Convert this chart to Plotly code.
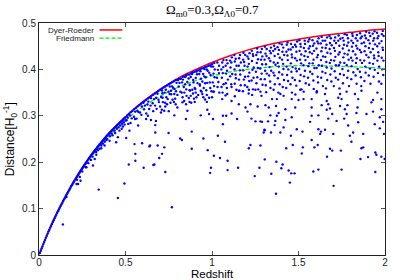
import plotly.graph_objects as go

# curves (redshift vs distance in units of c/H0)
z_curve = [0, 0.05, 0.1, 0.15, 0.2, 0.25, 0.3, 0.35, 0.4, 0.45, 0.5, 0.55, 0.6, 0.65, 0.7, 0.75,
           0.8, 0.85, 0.9, 0.95, 1.0, 1.1, 1.2, 1.3, 1.4, 1.5, 1.6, 1.7, 1.8, 1.9, 2.0]
dyer_roeder = [0, 0.047, 0.088, 0.1245, 0.158, 0.188, 0.215, 0.239, 0.261, 0.280, 0.298, 0.315, 0.330,
               0.344, 0.357, 0.369, 0.380, 0.390, 0.399, 0.407, 0.415, 0.429, 0.441, 0.451, 0.459,
               0.465, 0.471, 0.476, 0.480, 0.484, 0.487]
friedmann = [0, 0.0465, 0.0872, 0.1228, 0.1555, 0.1845, 0.2105, 0.2335, 0.2545, 0.273, 0.290, 0.306,
             0.319, 0.331, 0.342, 0.352, 0.3605, 0.368, 0.375, 0.381, 0.386, 0.394, 0.400, 0.404,
             0.407, 0.408, 0.408, 0.407, 0.406, 0.404, 0.402]

# simulated light-ray distances, (z, D) pairs
pts_low = [
    (0.005, .0045), (0.01, .009), (0.015, .014), (0.02, .0185), (0.025, .0235), (0.03, .028), (0.035, .0325),
    (0.04, .037), (0.045, .0415), (0.05, .046), (0.055, .0505), (0.06, .0545), (0.065, .059), (0.07, .063),
    (0.075, .067), (0.08, .071), (0.085, .075), (0.09, .079), (0.095, .083), (0.10, .087), (0.105, .091),
    (0.11, .0945), (0.115, .098), (0.12, .102), (0.125, .1055), (0.13, .109), (0.135, .1125), (0.14, .1165),
    (0.145, .120), (0.15, .1235), (0.155, .127), (0.16, .1305), (0.165, .1335), (0.17, .137), (0.175, .140),
    (0.18, .1435), (0.185, .1475), (0.19, .1505), (0.195, .1535), (0.20, .157),
    (0.205, .160), (0.21, .163), (0.215, .166), (0.22, .169), (0.225, .172), (0.23, .175), (0.235, .178),
    (0.24, .181), (0.245, .184), (0.25, .187), (0.255, .1895), (0.26, .1925), (0.265, .195), (0.27, .198),
    (0.275, .2005), (0.28, .2035), (0.285, .206), (0.29, .209), (0.295, .2115), (0.30, .214),
    (0.22, .162), (0.25, .180), (0.27, .189), (0.285, .198), (0.30, .205), (0.217, .153), (0.226, .153),
    (0.24, .160), (0.138, .066), (0.274, .189), (0.236, .168), (0.159, .125),
    (0.305, .2165), (0.31, .219), (0.315, .2215), (0.32, .224), (0.325, .2265), (0.33, .2285), (0.335, .231),
    (0.34, .2335), (0.345, .2355), (0.35, .238), (0.355, .240), (0.36, .2425), (0.365, .2445), (0.37, .247),
    (0.375, .249), (0.38, .2515), (0.385, .2535), (0.39, .256), (0.395, .258), (0.40, .260), (0.405, .262),
    (0.41, .264), (0.415, .266), (0.42, .268), (0.425, .2695), (0.43, .2715), (0.435, .2735), (0.44, .2755),
    (0.445, .277), (0.45, .279), (0.455, .281), (0.46, .2825), (0.465, .2845), (0.47, .286), (0.475, .288),
    (0.48, .2895), (0.485, .2915), (0.49, .2935), (0.495, .295), (0.50, .297),
    (0.31, .212), (0.322, .207), (0.312, .193), (0.331, .216), (0.34, .226), (0.35, .229), (0.36, .236),
    (0.37, .240), (0.379, .236), (0.38, .244), (0.39, .248), (0.395, .250), (0.408, .246), (0.41, .256),
    (0.42, .262), (0.425, .258), (0.437, .268), (0.44, .263), (0.446, .243), (0.45, .272), (0.456, .254),
    (0.46, .275), (0.465, .268), (0.47, .279), (0.478, .272), (0.48, .283), (0.485, .277), (0.49, .286),
    (0.494, .154), (0.495, .281), (0.50, .290), (0.345, .141), (0.456, .123), (0.33, .222), (0.36, .230),
]

pts_mid = [
    (0.51, .3005), (0.52, .304), (0.53, .3075), (0.54, .3105), (0.55, .314), (0.56, .317), (0.57, .320),
    (0.58, .323), (0.59, .326), (0.60, .329), (0.61, .332), (0.62, .3345), (0.63, .3375), (0.64, .340),
    (0.65, .343), (0.66, .3455), (0.67, .348), (0.68, .3505), (0.69, .3535), (0.70, .356), (0.71, .3585),
    (0.72, .361), (0.73, .363), (0.74, .3655), (0.75, .368), (0.76, .370), (0.77, .3725), (0.78, .3745),
    (0.79, .377), (0.80, .377), (0.81, .380), (0.82, .380), (0.83, .384), (0.84, .384), (0.85, .387),
    (0.86, .389), (0.87, .389), (0.88, .392), (0.89, .394), (0.90, .395), (0.91, .397), (0.92, .398),
    (0.93, .400), (0.94, .402), (0.95, .403), (0.96, .405), (0.97, .406), (0.98, .408), (0.99, .409),
    (1.00, .411),
    (0.513, .2965), (0.506, .2905), (0.516, .2825), (0.526, .3005), (0.536, .2945), (0.529, .2845),
    (0.556, .309), (0.549, .298), (0.555, .293), (0.569, .311), (0.575, .308), (0.564, .294),
    (0.595, .320), (0.584, .307), (0.592, .302), (0.604, .328), (0.612, .322), (0.607, .314),
    (0.632, .3305), (0.627, .3245), (0.637, .3145), (0.647, .338), (0.657, .327), (0.645, .322),
    (0.677, .339), (0.665, .336), (0.671, .322), (0.685, .3475), (0.691, .3345), (0.693, .3295),
    (0.711, .3545), (0.713, .3485), (0.706, .3405), (0.716, .3295),
    (0.733, .356), (0.726, .350), (0.736, .340), (0.729, .328),
    (0.756, .363), (0.749, .352), (0.755, .347), (0.744, .336),
    (0.769, .3635), (0.775, .3605), (0.764, .3465), (0.772, .3345),
    (0.795, .371), (0.784, .358), (0.792, .353), (0.787, .337),
    (0.804, .377), (0.812, .371), (0.807, .363), (0.817, .352),
    (0.832, .378), (0.827, .372), (0.837, .362), (0.825, .350),
    (0.847, .384), (0.857, .373), (0.845, .368), (0.851, .357), (0.853, .343),
    (0.877, .3835), (0.865, .3805), (0.871, .3665), (0.873, .3545), (0.866, .3385),
    (0.885, .390), (0.891, .377), (0.893, .372), (0.886, .356), (0.896, .337),
    (0.911, .3955), (0.913, .3895), (0.906, .3815), (0.916, .3705), (0.904, .3575),
    (0.933, .396), (0.926, .390), (0.936, .380), (0.929, .368), (0.935, .354),
    (0.956, .401), (0.949, .390), (0.955, .385), (0.944, .374), (0.952, .360),
    (0.969, .400), (0.975, .397), (0.964, .383), (0.972, .371), (0.967, .355),
    (0.995, .406), (0.984, .393), (0.992, .388), (0.987, .372), (0.997, .353),
    (0.519, .195), (0.523, .268), (0.504, .252), (0.552, .239), (0.557, .218), (0.557, .203), (0.573, .279),
    (0.596, .241), (0.605, .188), (0.619, .293), (0.638, .234), (0.642, .236), (0.647, .291), (0.661, .194),
    (0.667, .195), (0.672, .264), (0.672, .280), (0.676, .289), (0.686, .236), (0.695, .209), (0.705, .307),
    (0.711, .218), (0.714, .339), (0.724, .232), (0.724, .311), (0.730, .179), (0.749, .263), (0.763, .354),
    (0.768, .103), (0.782, .301), (0.782, .347), (0.816, .251), (0.826, .248), (0.829, .329), (0.839, .332),
    (0.849, .293), (0.858, .311), (0.877, .343), (0.883, .266), (0.883, .229), (0.906, .350), (0.935, .301),
    (0.944, .347), (0.950, .251), (0.973, .313), (0.975, .226), (0.983, .339), (0.983, .304), (0.989, .177),
    (0.994, .188),
    (0.62, .305), (0.66, .310), (0.70, .320), (0.74, .325), (0.78, .330), (0.80, .345), (0.84, .350),
    (0.87, .355), (0.90, .360), (0.93, .365), (0.96, .370), (0.99, .360), (0.75, .310), (0.80, .318),
    (0.85, .325), (0.90, .330), (0.95, .340), (0.97, .345), (0.92, .345), (0.88, .328), (0.83, .340),
    (0.79, .325), (0.73, .320), (0.63, .300), (0.68, .315), (0.71, .313), (0.76, .328),
    (0.94, .352), (0.96, .335), (0.89, .348), (0.91, .340), (0.97, .330), (1.00, .340), (0.87, .330),
]

pts_high1 = [
    (1.013, .414), (1.006, .406), (1.016, .400), (1.009, .391), (1.015, .383), (1.004, .372), (1.012, .364),
    (1.007, .352),
    (1.031, .415), (1.041, .408), (1.034, .399), (1.040, .392), (1.029, .382), (1.037, .373), (1.032, .362),
    (1.042, .350),
    (1.066, .420), (1.059, .415), (1.065, .405), (1.054, .400), (1.062, .392), (1.057, .382), (1.067, .368),
    (1.055, .362), (1.061, .350),
    (1.084, .420), (1.090, .413), (1.079, .408), (1.087, .397), (1.082, .391), (1.092, .378), (1.080, .370),
    (1.086, .360), (1.088, .347),
    (1.115, .426), (1.104, .419), (1.112, .415), (1.107, .404), (1.117, .390), (1.105, .385), (1.111, .368),
    (1.113, .362),
    (1.129, .431), (1.137, .423), (1.132, .417), (1.142, .408), (1.130, .400), (1.136, .389), (1.138, .381),
    (1.131, .369), (1.141, .356),
    (1.162, .431), (1.157, .424), (1.167, .415), (1.155, .408), (1.161, .398), (1.163, .389), (1.156, .378),
    (1.166, .366), (1.159, .354),
    (1.182, .436), (1.192, .431), (1.180, .421), (1.186, .416), (1.188, .408), (1.181, .398), (1.191, .384),
    (1.184, .378), (1.190, .366), (1.179, .353),
    (1.217, .435), (1.205, .428), (1.211, .423), (1.213, .412), (1.206, .406), (1.216, .393), (1.209, .385),
    (1.215, .375), (1.204, .362), (1.212, .348),
    (1.230, .440), (1.236, .433), (1.238, .429), (1.231, .418), (1.241, .404), (1.234, .399), (1.240, .382),
    (1.229, .376), (1.237, .357), (1.232, .345),
    (1.261, .445), (1.263, .437), (1.256, .431), (1.266, .422), (1.259, .414), (1.265, .403), (1.254, .395),
    (1.262, .383), (1.257, .370), (1.267, .357),
    (1.288, .444), (1.281, .437), (1.291, .428), (1.284, .421), (1.290, .411), (1.279, .402), (1.287, .391),
    (1.282, .379), (1.292, .367), (1.280, .352),
    (1.306, .449), (1.316, .444), (1.309, .434), (1.315, .429), (1.304, .421), (1.312, .411), (1.307, .397),
    (1.317, .391), (1.305, .379), (1.311, .366), (1.313, .351),
    (1.341, .447), (1.334, .440), (1.340, .435), (1.329, .424), (1.337, .418), (1.332, .405), (1.342, .397),
    (1.330, .387), (1.336, .374), (1.338, .360),
    (1.359, .451), (1.365, .444), (1.354, .440), (1.362, .429), (1.357, .415), (1.367, .410), (1.355, .393),
    (1.361, .387), (1.363, .368), (1.356, .356),
    (1.390, .456), (1.379, .448), (1.387, .442), (1.382, .433), (1.392, .425), (1.380, .414), (1.386, .406),
    (1.388, .394), (1.381, .381), (1.391, .368), (1.384, .350),
    (1.404, .454), (1.412, .447), (1.407, .438), (1.417, .431), (1.405, .421), (1.411, .412), (1.413, .401),
    (1.406, .389), (1.416, .377), (1.409, .362),
    (1.437, .458), (1.432, .453), (1.442, .443), (1.430, .438), (1.436, .430), (1.438, .420), (1.431, .406),
    (1.441, .400), (1.434, .388), (1.440, .375), (1.429, .360),
    (1.457, .455), (1.467, .448), (1.455, .443), (1.461, .432), (1.463, .426), (1.456, .413), (1.466, .405),
    (1.459, .395), (1.465, .382), (1.454, .368), (1.462, .350),
    (1.492, .460), (1.480, .453), (1.486, .449), (1.488, .438), (1.481, .424), (1.491, .419), (1.484, .402),
    (1.490, .396), (1.479, .377), (1.487, .365), (1.482, .346),
    (1.006, .293), (1.011, .352), (1.011, .214), (1.034, .257), (1.046, .209), (1.059, .336), (1.063, .300),
    (1.063, .282), (1.075, .244), (1.078, .344), (1.082, .300), (1.090, .203), (1.090, .183), (1.113, .332),
    (1.113, .305), (1.132, .342), (1.145, .293), (1.151, .188), (1.155, .325), (1.155, .354), (1.194, .318),
    (1.205, .309), (1.213, .230), (1.213, .356), (1.222, .237), (1.222, .325), (1.228, .294), (1.247, .170),
    (1.251, .288), (1.251, .356), (1.264, .320), (1.274, .188), (1.280, .236), (1.280, .288), (1.286, .343),
    (1.289, .287), (1.299, .264), (1.303, .270), (1.305, .206), (1.305, .269), (1.309, .323), (1.324, .288),
    (1.328, .318), (1.337, .301), (1.341, .264), (1.343, .175), (1.347, .336), (1.362, .280), (1.366, .289),
    (1.370, .132), (1.370, .321), (1.372, .201), (1.375, .300), (1.375, .336), (1.385, .306), (1.395, .264),
    (1.395, .347), (1.401, .187), (1.408, .195), (1.414, .275), (1.414, .343), (1.424, .291), (1.424, .314),
    (1.429, .230), (1.443, .182), (1.450, .156), (1.456, .257), (1.458, .176), (1.461, .297), (1.461, .336),
    (1.467, .237), (1.477, .176), (1.481, .318), (1.490, .271), (1.500, .334),
]

pts_high2 = [
    (1.505, .463), (1.511, .455), (1.513, .449), (1.506, .440), (1.516, .432), (1.509, .421), (1.515, .413),
    (1.504, .401), (1.512, .388), (1.507, .375), (1.517, .357),
    (1.536, .462), (1.538, .455), (1.531, .446), (1.541, .439), (1.534, .429), (1.540, .420), (1.529, .409),
    (1.537, .397), (1.532, .385), (1.542, .370), (1.530, .352),
    (1.563, .465), (1.556, .460), (1.566, .450), (1.559, .445), (1.565, .437), (1.554, .427), (1.562, .413),
    (1.557, .407), (1.567, .395), (1.555, .382), (1.561, .367),
    (1.581, .463), (1.591, .456), (1.584, .451), (1.590, .440), (1.579, .434), (1.587, .421), (1.582, .413),
    (1.592, .403), (1.580, .390), (1.586, .376), (1.588, .358),
    (1.616, .467), (1.609, .460), (1.615, .456), (1.604, .445), (1.612, .431), (1.607, .426), (1.617, .409),
    (1.605, .403), (1.611, .384), (1.613, .372), (1.606, .353),
    (1.634, .470), (1.640, .462), (1.629, .456), (1.637, .447), (1.632, .439), (1.642, .428), (1.630, .420),
    (1.636, .408), (1.638, .395), (1.631, .382), (1.641, .364),
    (1.665, .469), (1.654, .462), (1.662, .453), (1.657, .446), (1.667, .436), (1.655, .427), (1.661, .416),
    (1.663, .404), (1.656, .392), (1.666, .377), (1.659, .359),
    (1.679, .472), (1.687, .467), (1.682, .457), (1.692, .452), (1.680, .444), (1.686, .434), (1.688, .420),
    (1.681, .414), (1.691, .402), (1.684, .389), (1.690, .374),
    (1.712, .469), (1.707, .462), (1.717, .457), (1.705, .446), (1.711, .440), (1.713, .427), (1.706, .419),
    (1.716, .409), (1.709, .396), (1.715, .382), (1.704, .364),
    (1.732, .473), (1.742, .466), (1.730, .462), (1.736, .451), (1.738, .437), (1.731, .432), (1.741, .415),
    (1.734, .409), (1.740, .390), (1.729, .378), (1.737, .359),
    (1.767, .476), (1.755, .468), (1.761, .462), (1.763, .453), (1.756, .445), (1.766, .434), (1.759, .426),
    (1.765, .414), (1.754, .401), (1.762, .388), (1.757, .370),
    (1.780, .474), (1.786, .467), (1.788, .458), (1.781, .451), (1.791, .441), (1.784, .432), (1.790, .421),
    (1.779, .409), (1.787, .397), (1.782, .382), (1.792, .364),
    (1.811, .477), (1.813, .472), (1.806, .462), (1.816, .457), (1.809, .449), (1.815, .439), (1.804, .425),
    (1.812, .419), (1.807, .407), (1.817, .394), (1.805, .379),
    (1.838, .474), (1.831, .467), (1.841, .462), (1.834, .451), (1.840, .445), (1.829, .432), (1.837, .424),
    (1.832, .414), (1.842, .401), (1.830, .387), (1.836, .369),
    (1.856, .478), (1.866, .471), (1.859, .467), (1.865, .456), (1.854, .442), (1.862, .437), (1.857, .420),
    (1.867, .414), (1.855, .395), (1.861, .383), (1.863, .364),
    (1.891, .481), (1.884, .473), (1.890, .467), (1.879, .458), (1.887, .450), (1.882, .439), (1.892, .431),
    (1.880, .419), (1.886, .406), (1.888, .393), (1.881, .375),
    (1.909, .479), (1.915, .472), (1.904, .463), (1.912, .456), (1.907, .446), (1.917, .437), (1.905, .426),
    (1.911, .414), (1.913, .402), (1.906, .387), (1.916, .369),
    (1.940, .482), (1.929, .477), (1.937, .467), (1.932, .462), (1.942, .454), (1.930, .444), (1.936, .430),
    (1.938, .424), (1.931, .412), (1.941, .399), (1.934, .384),
    (1.954, .479), (1.962, .472), (1.957, .467), (1.967, .456), (1.955, .450), (1.961, .437), (1.963, .429),
    (1.956, .419), (1.966, .406), (1.959, .392), (1.965, .374),
    (1.987, .483), (1.982, .476), (1.992, .472), (1.980, .461), (1.986, .447), (1.988, .442), (1.981, .425),
    (1.991, .419), (1.984, .400), (1.990, .388), (1.979, .369),
    (1.510, .356), (1.519, .219), (1.523, .266), (1.525, .232), (1.529, .336), (1.567, .287), (1.576, .248),
    (1.576, .300), (1.576, .318), (1.576, .336), (1.586, .180), (1.592, .232), (1.605, .350), (1.611, .237),
    (1.615, .184), (1.615, .271), (1.615, .301), (1.625, .261), (1.630, .266), (1.634, .323), (1.653, .270),
    (1.653, .347), (1.663, .313), (1.663, .332), (1.665, .212), (1.672, .294), (1.672, .325), (1.682, .229),
    (1.682, .316), (1.695, .225), (1.695, .304), (1.703, .149), (1.701, .261), (1.720, .289), (1.730, .339),
    (1.740, .321), (1.740, .347), (1.745, .225), (1.749, .184), (1.749, .336), (1.764, .294), (1.768, .314),
    (1.778, .304), (1.778, .352), (1.783, .323), (1.787, .279), (1.797, .257), (1.806, .244), (1.816, .264),
    (1.826, .347), (1.835, .306), (1.841, .318), (1.845, .286), (1.845, .336), (1.858, .207), (1.864, .230),
    (1.864, .354), (1.874, .232), (1.874, .261), (1.893, .304), (1.902, .211), (1.921, .329), (1.931, .309),
    (1.931, .334), (1.941, .282), (1.944, .221), (1.944, .179), (1.950, .216), (1.956, .350), (1.970, .273),
    (1.970, .297), (1.979, .212), (1.979, .314), (1.979, .336), (1.989, .287), (1.994, .261), (1.998, .207),
]

x_ticks = [0, 0.5, 1, 1.5, 2]
x_labels = ["0", "0.5", "1", "1.5", "2"]
y_ticks = [0, 0.1, 0.2, 0.3, 0.4, 0.5]
y_labels = ["0", "0.1", "0.2", "0.3", "0.4", "0.5"]

all_pts = pts_low + pts_mid + pts_high1 + pts_high2
pz = [p[0] for p in all_pts]
pd_ = [p[1] for p in all_pts]

fig = go.Figure()
# both curves first, the points on top of them
fig.add_trace(go.Scatter(x=z_curve, y=dyer_roeder, mode="lines", line_shape="spline",
                         line=dict(color="#ff0000", width=1.5), showlegend=False))
fig.add_trace(go.Scatter(x=z_curve, y=friedmann, mode="lines", line_shape="spline",
                         line=dict(color="#00ee00", width=1.3, dash="4px,2px"), showlegend=False))
fig.add_trace(go.Scatter(x=pz, y=pd_, mode="markers",
                         marker=dict(color="#0000ff", size=2.4, line=dict(width=0)), showlegend=False))

axis_style = dict(showline=True, linecolor="#222222", linewidth=1, mirror="ticks", ticks="inside",
                  ticklen=4, tickcolor="#555555", showgrid=False, zeroline=False,
                  tickfont=dict(family="Liberation Sans", size=10, color="#222222"))
fig.update_xaxes(range=[0, 2], tickvals=x_ticks, ticktext=x_labels, ticklabelstandoff=-2, **axis_style)
fig.update_yaxes(range=[0, 0.5], tickvals=y_ticks, ticktext=y_labels, **axis_style)

# hand-made legend (text right-aligned, line sample on the right, like gnuplot)
legend_font = dict(family="Liberation Sans", size=8, color="#222222")
fig.add_annotation(text="Dyer-Roeder", x=0.162, y=0.969, xref="paper", yref="paper", borderpad=0,
                   xanchor="right", yanchor="middle", showarrow=False, font=legend_font)
fig.add_annotation(text="Friedmann", x=0.162, y=0.933, xref="paper", yref="paper", borderpad=0,
                   xanchor="right", yanchor="middle", showarrow=False, font=legend_font)
fig.add_shape(type="line", xref="paper", yref="paper", x0=0.175, x1=0.241, y0=0.970, y1=0.970,
              line=dict(color="#ff0000", width=1.5))
fig.add_shape(type="line", xref="paper", yref="paper", x0=0.175, x1=0.241, y0=0.935, y1=0.935,
              line=dict(color="#00ee00", width=1.2, dash="4px,2px"))

fig.add_annotation(text="Ω<sub>m0</sub>=0.3,Ω<sub>Λ0</sub>=0.7", x=0.5, y=1.055, xref="paper", yref="paper",
                   xanchor="center", yanchor="middle", showarrow=False,
                   font=dict(family="Liberation Serif", size=13, color="#000000"))
fig.add_annotation(text="Redshift", x=0.5, y=-0.081, xref="paper", yref="paper",
                   xanchor="center", yanchor="middle", showarrow=False,
                   font=dict(family="Liberation Sans", size=11.5, color="#000000"))
fig.add_annotation(text="Distance[H<sub>0</sub><sup>-1</sup>]", x=-0.083, y=0.5, xref="paper", yref="paper",
                   xanchor="center", yanchor="middle", showarrow=False, textangle=-90,
                   font=dict(family="Liberation Sans", size=12, color="#000000"))

fig.update_layout(width=400, height=280, margin=dict(l=39, r=13, t=23, b=24),
                  plot_bgcolor="white", paper_bgcolor="white", showlegend=False)

# the page body has a default 8px margin; drop it so the figure sits at the window origin
fig.write_html("out.html", config={"displayModeBar": False},
               post_script="document.body.style.margin='0';")
